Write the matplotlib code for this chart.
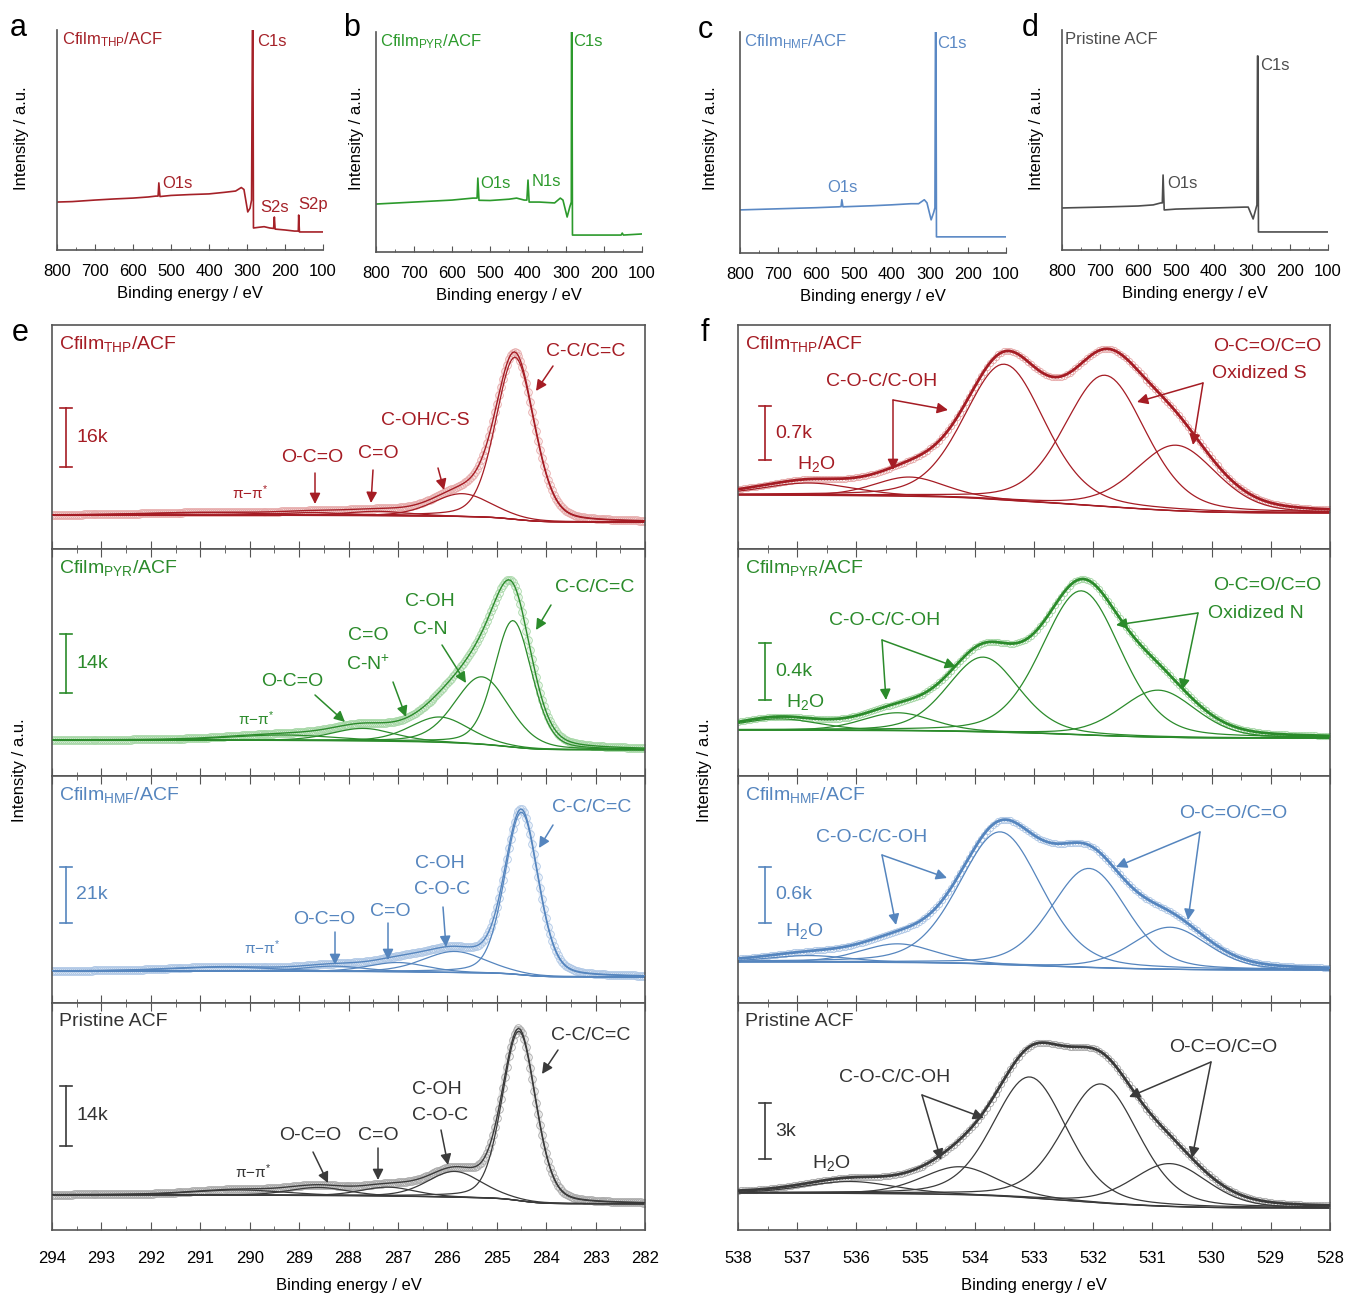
import numpy as np
import matplotlib
matplotlib.use('Agg')
import matplotlib.pyplot as plt
from matplotlib.ticker import MultipleLocator
import matplotlib.transforms as mtransforms

plt.rcParams['font.family'] = ['Liberation Sans', 'DejaVu Sans']
plt.rcParams['mathtext.fontset'] = 'custom'
plt.rcParams['mathtext.rm'] = 'Liberation Sans'
plt.rcParams['mathtext.it'] = 'Liberation Sans:italic'
plt.rcParams['mathtext.bf'] = 'Liberation Sans:bold'
plt.rcParams['mathtext.default'] = 'regular'

# ---------------- survey spectra (binding energy / eV, intensity a.u.)
svy_thp_e = [800, 760, 700, 650, 600, 560, 540, 534, 532, 529, 500, 450, 400, 360, 330, 315, 308,
             298, 292, 288, 285.5, 284.5, 283, 270, 255, 240, 230, 228, 226, 200, 175, 165, 164, 162, 100]
svy_thp_i = [21.8, 22.0, 22.7, 23.2, 23.6, 24.1, 24.5, 24.5, 30.5, 24.3, 24.8, 25.2, 25.5, 26.2, 26.8, 28.4, 27.5,
             17.3, 19.0, 22.7, 110, 110, 10.0, 10.3, 10.6, 10.0, 9.8, 15.0, 9.5, 9.1, 8.6, 8.6, 15.9, 8.2, 8.2]

svy_pyr_e = [800, 700, 600, 545, 534, 532, 529, 500, 450, 430, 410, 403, 400, 397, 370, 330, 315, 308,
             297, 290, 286, 285.5, 284.5, 283, 200, 155, 152, 149, 100]
svy_pyr_i = [21.8, 22.7, 23.6, 24.5, 24.5, 33.6, 23.5, 23.4, 24.0, 24.5, 23.6, 23.6, 32.7, 22.7, 22.7, 22.3, 24.5, 23.6,
             15.9, 20.5, 22.7, 110, 110, 7.7, 7.7, 7.7, 8.6, 7.7, 8.2]

svy_hmf_e = [800, 700, 600, 540, 534, 532, 529, 450, 400, 350, 330, 315, 308, 297, 290, 287, 285.5, 284.5, 283, 100]
svy_hmf_i = [19.5, 20.0, 20.5, 20.9, 21.0, 24.1, 20.9, 21.4, 21.8, 22.3, 22.3, 24.1, 22.7, 15.0, 18.5, 20.5, 110, 110, 7.3, 7.3]

svy_pri_e = [800, 700, 600, 560, 540, 536, 534, 531, 500, 400, 320, 310, 297, 290, 287, 285.5, 284.5, 283, 100]
svy_pri_i = [19.1, 19.5, 20.0, 20.5, 21.4, 21.4, 34.1, 18.2, 18.6, 19.1, 19.5, 19.5, 14.1, 18.6, 20.5, 88.2, 88.2, 8.2, 8.2]

# ---------------- C1s fits: C-C/C=C, C-OH, C=O, O-C=O, pi-pi*
c1s_thp_pos = [284.63, 285.7, 287.4, 288.7, 290.8]
c1s_thp_amp = [44000, 6200, 1200, 800, 700]
c1s_thp_fwhm = [0.92, 1.4, 1.5, 1.6, 3.0]
c1s_thp_bg = [7300, 9200]          # low-BE end, high-BE end

c1s_pyr_pos = [284.67, 285.3, 286.15, 287.7, 289.3]
c1s_pyr_amp = [30000, 16000, 6000, 3000, 1300]
c1s_pyr_fwhm = [0.9, 1.3, 1.4, 1.5, 2.5]
c1s_pyr_bg = [6200, 8500]

c1s_hmf_pos = [284.5, 285.85, 287.0, 288.3, 290.5]
c1s_hmf_amp = [61000, 7900, 3500, 2000, 1500]
c1s_hmf_fwhm = [0.8, 1.5, 1.4, 1.5, 2.5]
c1s_hmf_bg = [9750, 12000]

c1s_pri_pos = [284.55, 285.85, 287.2, 288.6, 290.2]
c1s_pri_amp = [39500, 6000, 2100, 1900, 1200]
c1s_pri_fwhm = [0.8, 1.3, 1.3, 1.4, 2.2]
c1s_pri_bg = [6100, 8200]

# ---------------- O1s fits: H2O, C-O-C (small), C-O-C/C-OH, O-C=O/C=O, oxidized S/N or small O-C=O
o1s_thp_pos = [536.8, 535.1, 533.5, 531.8, 530.6]
o1s_thp_amp = [160, 250, 1760, 1700, 850]
o1s_thp_fwhm = [1.8, 1.4, 1.6, 1.6, 1.6]
o1s_thp_bg = [467, 700]

o1s_pyr_pos = [537.3, 535.3, 533.86, 532.2, 530.9]
o1s_pyr_amp = [80, 126, 525, 1010, 330]
o1s_pyr_fwhm = [1.6, 1.4, 1.42, 1.57, 1.5]
o1s_pyr_bg = [266, 322]

o1s_hmf_pos = [536.8, 535.3, 533.57, 532.07, 530.7]
o1s_hmf_amp = [70, 200, 1420, 1060, 450]
o1s_hmf_fwhm = [1.6, 1.5, 1.64, 1.5, 1.5]
o1s_hmf_bg = [353, 439]

o1s_pri_pos = [536.1, 534.25, 533.07, 531.87, 530.7]
o1s_pri_amp = [640, 1500, 6485, 6380, 2300]
o1s_pri_fwhm = [1.8, 1.5, 1.46, 1.5, 1.5]
o1s_pri_bg = [1179, 1983]

c1s_scale = [16000, 14000, 21000, 14000]
c1s_scale_lbl = ['16k', '14k', '21k', '14k']
o1s_scale = [700, 400, 600, 3000]
o1s_scale_lbl = ['0.7k', '0.4k', '0.6k', '3k']

names = ['Cfilm$_{THP}$/ACF', 'Cfilm$_{PYR}$/ACF', 'Cfilm$_{HMF}$/ACF', 'Pristine ACF']

# ---------------- style
dark = ['#A51C24', '#2B8B2B', '#5585BE', '#3A3A3A']
light = ['#E6A8A8', '#A3D6A3', '#ADC6E5', '#A8A8A8']
txtc = ['#A51C24', '#2B8B2B', '#5585BE', '#333333']
svy_col = ['#A52128', '#2C9A2C', '#5A88C4', '#4D4D4D']
frame_c = '#555555'

W, H = 1349, 1298
fig = plt.figure(figsize=(W / 100, H / 100), dpi=100)


def box(x0, y0, x1, y1):
    return [x0 / W, 1 - y1 / H, (x1 - x0) / W, (y1 - y0) / H]


def ftext(x, y, s, **kw):
    kw.setdefault('ha', 'center')
    kw.setdefault('va', 'center')
    fig.text(x / W, 1 - y / H, s, **kw)


def arrow(tail, head, col):
    fig.add_artist(matplotlib.patches.FancyArrowPatch(
        (tail[0] / W, 1 - tail[1] / H), (head[0] / W, 1 - head[1] / H),
        transform=fig.transFigure, arrowstyle='-|>', mutation_scale=16,
        color=col, lw=1.1, shrinkA=0, shrinkB=0))


def pv(E, c, h, w, eta=0.25):
    x = (E - c) / w
    return h * ((1 - eta) * np.exp(-4 * np.log(2) * x ** 2) + eta / (1 + 4 * x ** 2))


def shirley(E, total, lo, hi):
    a = np.cumsum(total)
    return lo + (hi - lo) * a / a[-1]


# ================= survey panels a-d
svy_boxes = [(57, 30, 323, 250), (376, 32, 642, 252), (740, 32, 1006, 253), (1062, 30, 1328, 250)]
svy_e = [svy_thp_e, svy_pyr_e, svy_hmf_e, svy_pri_e]
svy_i = [svy_thp_i, svy_pyr_i, svy_hmf_i, svy_pri_i]
svy_txt = [
    [(names[0], 62, 40), ('C1s', 257, 41), ('O1s', 162, 184), ('S2s', 260, 207), ('S2p', 298, 205)],
    [(names[1], 380, 42), ('C1s', 573, 42), ('O1s', 480, 183), ('N1s', 532, 182)],
    [(names[2], 744, 42), ('C1s', 937, 43), ('O1s', 827, 188)],
    [(names[3], 1065, 40), ('C1s', 1260, 66), ('O1s', 1167, 183)],
]
letters = [('a', 18, 28), ('b', 352, 28), ('c', 705, 30), ('d', 1030, 28)]
ylab_x = [22, 357, 711, 1037]

for k in range(4):
    ax = fig.add_axes(box(*svy_boxes[k]))
    ax.plot(svy_e[k], svy_i[k], color=svy_col[k], lw=1.2)
    ax.set_xlim(800, 100)
    ax.set_ylim(0, 100)
    ax.set_yticks([])
    for s in ['top', 'right']:
        ax.spines[s].set_visible(False)
    for s in ['left', 'bottom']:
        ax.spines[s].set_color(frame_c)
        ax.spines[s].set_linewidth(1.2)
    ax.xaxis.set_major_locator(MultipleLocator(100))
    ax.xaxis.set_minor_locator(MultipleLocator(50))
    ax.tick_params(axis='x', which='both', direction='in', color=frame_c, labelsize=12, pad=10)
    ax.tick_params(axis='x', which='major', length=4)
    ax.tick_params(axis='x', which='minor', length=2.5)
    ax.set_xlabel('Binding energy / eV', fontsize=12, labelpad=5)
    for s, x, y in svy_txt[k]:
        ftext(x, y, s, ha='left', color=svy_col[k], fontsize=12)
    ftext(ylab_x[k], 138, 'Intensity / a.u.', rotation=90, fontsize=12)
    ftext(letters[k][1], letters[k][2], letters[k][0], fontsize=22)

# ================= high resolution panels e (C1s) and f (O1s)
rows = [(325, 549), (549, 776), (776, 1003), (1003, 1230)]
c1s_ytop = [60800, 53800, 85100, 52900]
c1s_bar0 = [22200, 19700, 30000, 19600]
o1s_ytop = [2903, 1593, 2429, 12167]
o1s_bar0 = [1153, 533, 856, 3806]

c1s_fit = [(c1s_thp_pos, c1s_thp_amp, c1s_thp_fwhm, c1s_thp_bg),
           (c1s_pyr_pos, c1s_pyr_amp, c1s_pyr_fwhm, c1s_pyr_bg),
           (c1s_hmf_pos, c1s_hmf_amp, c1s_hmf_fwhm, c1s_hmf_bg),
           (c1s_pri_pos, c1s_pri_amp, c1s_pri_fwhm, c1s_pri_bg)]
o1s_fit = [(o1s_thp_pos, o1s_thp_amp, o1s_thp_fwhm, o1s_thp_bg),
           (o1s_pyr_pos, o1s_pyr_amp, o1s_pyr_fwhm, o1s_pyr_bg),
           (o1s_hmf_pos, o1s_hmf_amp, o1s_hmf_fwhm, o1s_hmf_bg),
           (o1s_pri_pos, o1s_pri_amp, o1s_pri_fwhm, o1s_pri_bg)]

pipi = 'π−π$^{*}$'
c1s_txt = [
    [('C-C/C=C', 586, 352), ('C-OH/C-S', 425, 420), ('C=O', 378, 454), ('O-C=O', 312, 458)],
    [('C-C/C=C', 595, 587), ('C-OH', 430, 602), ('C-N', 430, 630), ('C=O', 368, 636), ('C-N$^{+}$', 368, 664),
     ('O-C=O', 292, 682)],
    [('C-C/C=C', 592, 807), ('C-OH', 440, 863), ('C-O-C', 442, 890), ('C=O', 390, 911), ('O-C=O', 324, 919)],
    [('C-C/C=C', 591, 1035), ('C-OH', 437, 1089), ('C-O-C', 440, 1116), ('C=O', 378, 1135), ('O-C=O', 310, 1135)],
]
c1s_pi = [(250, 493), (256, 719), (262, 948), (253, 1172)]
c1s_arr = [
    [((553, 366), (536, 391)), ((438, 468), (444, 490)), ((373, 470), (371, 503)), ((315, 473), (315, 504))],
    [((551, 605), (536, 630)), ((442, 645), (466, 683)), ((393, 682), (406, 717)), ((315, 695), (345, 722))],
    [((553, 825), (539, 848)), ((443, 907), (446, 947)), ((388, 923), (388, 960)), ((335, 932), (335, 965))],
    [((558, 1050), (542, 1074)), ((441, 1130), (448, 1165)), ((378, 1148), (378, 1180)), ((313, 1152), (328, 1183))],
]
o1s_txt = [
    [('C-O-C/C-OH', 882, 382), ('O-C=O/C=O', 1267, 346), ('Oxidized S', 1259, 374), ('H$_{2}$O', 816, 464)],
    [('C-O-C/C-OH', 885, 621), ('O-C=O/C=O', 1267, 586), ('Oxidized N', 1256, 613), ('H$_{2}$O', 805, 702)],
    [('C-O-C/C-OH', 872, 838), ('O-C=O/C=O', 1233, 814), ('H$_{2}$O', 804, 931)],
    [('C-O-C/C-OH', 895, 1078), ('O-C=O/C=O', 1223, 1047), ('H$_{2}$O', 831, 1163)],
]
o1s_arr = [
    [((893, 400), (948, 410)), ((893, 400), (893, 470)), ((1203, 383), (1137, 402)), ((1203, 383), (1193, 445))],
    [((882, 640), (956, 667)), ((882, 640), (886, 700)), ((1198, 613), (1116, 625)), ((1198, 613), (1182, 690))],
    [((882, 855), (947, 878)), ((882, 855), (896, 925)), ((1200, 832), (1116, 867)), ((1200, 832), (1188, 920))],
    [((922, 1095), (984, 1118)), ((922, 1095), (941, 1160)), ((1211, 1062), (1129, 1097)), ((1211, 1062), (1192, 1158))],
]

E_c = np.arange(282, 294.0001, 0.04)
E_o = np.arange(528, 538.0001, 0.05)

panels = [
    dict(x0=52, x1=645, E=E_c, lim=(294, 282), fits=c1s_fit, ytop=c1s_ytop, bar0=c1s_bar0,
         scale=c1s_scale, slbl=c1s_scale_lbl, barx=66, txt=c1s_txt, arr=c1s_arr, ms=5.5, envlw=1.0, band=4),
    dict(x0=738, x1=1330, E=E_o, lim=(538, 528), fits=o1s_fit, ytop=o1s_ytop, bar0=o1s_bar0,
         scale=o1s_scale, slbl=o1s_scale_lbl, barx=765, txt=o1s_txt, arr=o1s_arr, ms=4.5, envlw=2.0, band=0),
]

for p in panels:
    for r in range(4):
        y0, y1 = rows[r]
        ax = fig.add_axes(box(p['x0'], y0, p['x1'], y1))
        E = p['E']
        pos, amp, fw, bgv = p['fits'][r]
        comps = [pv(E, c, h, w) for c, h, w in zip(pos, amp, fw)]
        total = np.sum(comps, axis=0)
        bg = shirley(E, total, bgv[0], bgv[1])
        env = bg + total
        if p['band']:
            ax.plot(E, env, color=light[r], lw=p['band'], alpha=0.3, zorder=1)
        ax.plot(E, env, 'o', mfc='none', mec=light[r], ms=p['ms'], mew=0.6, zorder=1)
        ax.plot(E, bg, color=dark[r], lw=0.9, zorder=2)
        for cp in comps:
            ax.plot(E, bg + cp, color=dark[r], lw=0.9, zorder=2)
        ax.plot(E, env, color=dark[r], lw=p['envlw'], zorder=3)
        ax.set_xlim(*p['lim'])
        ax.set_ylim(0, p['ytop'][r])
        ax.set_yticks([])
        for s in ax.spines.values():
            s.set_color(frame_c)
            s.set_linewidth(1.2)
        ax.xaxis.set_major_locator(MultipleLocator(1))
        ax.xaxis.set_minor_locator(MultipleLocator(0.5))
        ax.tick_params(axis='x', which='both', direction='in', top=(r > 0), color=frame_c,
                       labelsize=12, pad=15)
        ax.tick_params(axis='x', which='major', length=6)
        ax.tick_params(axis='x', which='minor', length=3)
        if r < 3:
            ax.tick_params(axis='x', labelbottom=False)
        else:
            ax.set_xlabel('Binding energy / eV', fontsize=12, labelpad=9)
        # scale bar
        bx = (p['barx'] - p['x0']) / (p['x1'] - p['x0'])
        tr = mtransforms.blended_transform_factory(ax.transAxes, ax.transData)
        b0 = p['bar0'][r]
        b1 = b0 + p['scale'][r]
        cap = 6.0 / (p['x1'] - p['x0'])
        ax.plot([bx, bx], [b0, b1], color=dark[r], lw=1.2, transform=tr)
        ax.plot([bx - cap, bx + cap], [b0, b0], color=dark[r], lw=1.2, transform=tr)
        ax.plot([bx - cap, bx + cap], [b1, b1], color=dark[r], lw=1.2, transform=tr)
        ax.text(bx + 10.0 / (p['x1'] - p['x0']), (b0 + b1) / 2, p['slbl'][r], transform=tr,
                ha='left', va='center', fontsize=14, color=txtc[r])
        # sample name
        ftext(p['x0'] + 7, y0 + 19, names[r], ha='left', fontsize=14, color=txtc[r])
        for s, x, y in p['txt'][r]:
            ftext(x, y, s, fontsize=14, color=txtc[r])
        for tail, head in p['arr'][r]:
            arrow(tail, head, dark[r])

for r in range(4):
    ftext(c1s_pi[r][0], c1s_pi[r][1], pipi, fontsize=11, color=txtc[r])

ftext(20, 770, 'Intensity / a.u.', rotation=90, fontsize=12)
ftext(705, 770, 'Intensity / a.u.', rotation=90, fontsize=12)
ftext(20, 333, 'e', fontsize=22)
ftext(705, 333, 'f', fontsize=22)

fig.savefig('out.png', dpi=100)
